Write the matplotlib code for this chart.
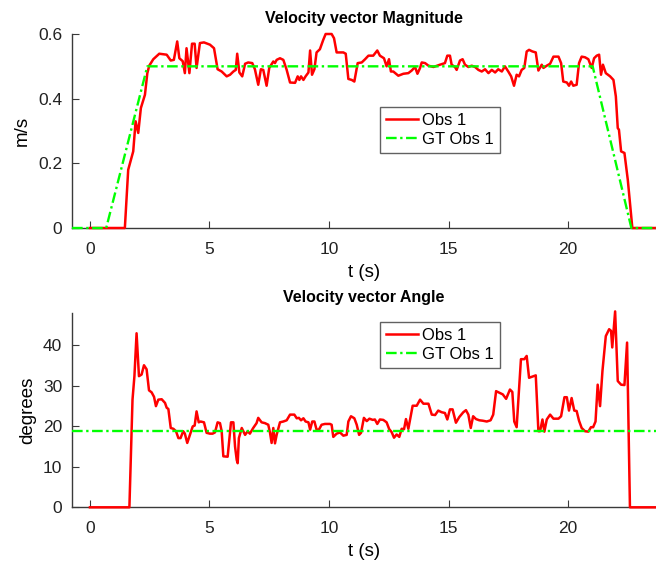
import numpy as np
import matplotlib.pyplot as plt

plt.rcParams['font.family'] = ['Liberation Sans', 'DejaVu Sans']

# time axis limits (tight on the data)
t_min, t_max = -0.75, 23.68

# Velocity magnitude, observed (m/s)
mag_t = [0.0, 1.46, 1.60, 1.81, 1.91, 2.02, 2.13, 2.30, 2.40, 2.48, 2.65, 2.90, 3.21, 3.38, 3.51, 3.65,
         3.74, 3.88, 3.97, 4.04, 4.16, 4.27, 4.38, 4.46, 4.60, 4.77, 5.02, 5.19, 5.34, 5.51, 5.72,
         5.86, 6.00, 6.10, 6.16, 6.25, 6.37, 6.49, 6.62, 6.79, 6.90, 7.04, 7.15, 7.25, 7.39, 7.50,
         7.67, 7.74, 7.81, 7.95, 8.09, 8.23, 8.37, 8.58, 8.69, 8.76, 8.83, 8.93, 9.02, 9.14, 9.21,
         9.29, 9.39, 9.48, 9.62, 9.76, 9.86, 10.11, 10.21, 10.32, 10.60, 10.70, 10.81, 10.95, 11.06,
         11.20, 11.37, 11.51, 11.65, 11.85, 12.02, 12.13, 12.30, 12.41, 12.51, 12.59, 12.69, 12.90,
         13.11, 13.32, 13.46, 13.60, 13.70, 13.81, 13.88, 14.02, 14.16, 14.37, 14.64, 14.85, 14.95,
         15.06, 15.13, 15.27, 15.34, 15.48, 15.59, 15.69, 15.83, 15.97, 16.11, 16.25, 16.39, 16.53,
         16.67, 16.81, 16.95, 17.08, 17.23, 17.36, 17.50, 17.62, 17.74, 17.85, 17.95, 18.06, 18.17,
         18.27, 18.37, 18.51, 18.65, 18.76, 18.90, 18.97, 19.11, 19.25, 19.39, 19.60, 19.71, 19.80,
         19.95, 20.04, 20.13, 20.22, 20.36, 20.46, 20.57, 20.71, 20.85, 20.99, 21.09, 21.20, 21.30,
         21.38, 21.46, 21.58, 21.76, 21.90, 22.00, 22.08, 22.13, 22.22, 22.36, 22.50, 22.59, 22.69,
         23.68]
mag_v = [0.0, 0.0, 0.18, 0.237, 0.33, 0.294, 0.371, 0.412, 0.479, 0.502, 0.522, 0.539, 0.536, 0.518,
         0.52, 0.577, 0.525, 0.516, 0.479, 0.556, 0.479, 0.57, 0.57, 0.495, 0.572, 0.574, 0.567,
         0.556, 0.491, 0.484, 0.469, 0.474, 0.484, 0.489, 0.539, 0.481, 0.469, 0.508, 0.512, 0.51,
         0.491, 0.443, 0.491, 0.489, 0.44, 0.495, 0.515, 0.51, 0.52, 0.525, 0.52, 0.489, 0.45,
         0.449, 0.469, 0.458, 0.469, 0.458, 0.469, 0.481, 0.549, 0.474, 0.491, 0.543, 0.553, 0.582,
         0.60, 0.60, 0.587, 0.543, 0.543, 0.539, 0.461, 0.458, 0.453, 0.51, 0.512, 0.522, 0.533,
         0.533, 0.549, 0.533, 0.525, 0.50, 0.522, 0.484, 0.484, 0.471, 0.477, 0.479, 0.487, 0.498,
         0.477, 0.495, 0.512, 0.51, 0.502, 0.498, 0.505, 0.51, 0.533, 0.533, 0.505, 0.498, 0.489,
         0.518, 0.522, 0.505, 0.498, 0.502, 0.498, 0.489, 0.484, 0.491, 0.479, 0.489, 0.481, 0.491,
         0.484, 0.50, 0.484, 0.469, 0.44, 0.474, 0.469, 0.489, 0.495, 0.546, 0.551, 0.546, 0.543,
         0.487, 0.505, 0.495, 0.502, 0.508, 0.53, 0.53, 0.51, 0.453, 0.45, 0.44, 0.453, 0.44, 0.443,
         0.51, 0.53, 0.528, 0.522, 0.495, 0.525, 0.533, 0.536, 0.474, 0.505, 0.479, 0.469, 0.458,
         0.407, 0.309, 0.304, 0.237, 0.232, 0.149, 0.077, 0.0, 0.0]

# Velocity magnitude, ground truth
gt_mag_t = [t_min, 0.68, 2.40, 21.03, 22.65, t_max]
gt_mag_v = [0.0, 0.0, 0.5, 0.5, 0.0, 0.0]

# Velocity angle, observed (degrees)
ang_t = [0.0, 1.65, 1.78, 1.86, 1.95, 2.05, 2.16, 2.26, 2.37, 2.47, 2.58, 2.68, 2.76, 2.86, 3.00,
         3.14, 3.21, 3.28, 3.38, 3.49, 3.60, 3.70, 3.79, 3.90, 3.97, 4.07, 4.18, 4.30, 4.38, 4.46,
         4.55, 4.63, 4.77, 4.88, 5.02, 5.13, 5.23, 5.34, 5.44, 5.51, 5.58, 5.76, 5.83, 5.90, 6.00,
         6.07, 6.14, 6.18, 6.23, 6.35, 6.49, 6.60, 6.69, 6.83, 6.97, 7.04, 7.18, 7.32, 7.46, 7.53,
         7.60, 7.67, 7.74, 7.81, 7.95, 8.09, 8.23, 8.37, 8.55, 8.65, 8.74, 8.83, 8.93, 9.02, 9.14,
         9.21, 9.30, 9.39, 9.48, 9.58, 9.69, 9.83, 10.04, 10.11, 10.18, 10.32, 10.46, 10.60, 10.74,
         10.81, 10.92, 11.06, 11.16, 11.26, 11.34, 11.46, 11.58, 11.69, 11.83, 11.92, 12.02, 12.13,
         12.27, 12.41, 12.52, 12.62, 12.72, 12.83, 12.94, 13.04, 13.14, 13.22, 13.32, 13.50, 13.67,
         13.81, 13.95, 14.16, 14.30, 14.44, 14.57, 14.71, 14.85, 14.95, 15.06, 15.17, 15.31, 15.45,
         15.62, 15.73, 15.83, 15.93, 16.03, 16.15, 16.29, 16.43, 16.60, 16.76, 16.87, 16.99, 17.13,
         17.27, 17.41, 17.57, 17.67, 17.75, 17.85, 18.03, 18.17, 18.27, 18.37, 18.55, 18.65, 18.76,
         18.83, 18.93, 19.01, 19.11, 19.25, 19.39, 19.60, 19.71, 19.85, 19.95, 20.04, 20.15, 20.26,
         20.36, 20.46, 20.57, 20.71, 20.85, 20.96, 21.05, 21.15, 21.24, 21.34, 21.44, 21.58, 21.72,
         21.80, 21.85, 21.97, 22.08, 22.22, 22.36, 22.47, 22.59, 23.68]
ang_v = [0.0, 0.0, 26.6, 32.4, 43.0, 32.4, 32.8, 35.1, 34.1, 28.9, 28.4, 27.3, 25.0, 26.6, 26.7,
         25.8, 24.6, 24.3, 19.6, 19.4, 18.8, 17.1, 17.1, 18.8, 18.2, 15.9, 17.9, 20.0, 20.2, 23.7,
         21.0, 21.2, 21.0, 18.4, 18.2, 18.2, 18.5, 21.0, 20.8, 18.8, 12.6, 12.5, 16.7, 21.0, 21.0,
         15.0, 11.7, 10.9, 17.1, 19.6, 17.9, 18.8, 18.2, 19.6, 20.8, 22.1, 21.0, 20.8, 20.4, 18.5,
         15.9, 19.6, 15.8, 17.9, 21.0, 21.2, 21.5, 22.9, 22.9, 22.0, 22.1, 21.5, 22.0, 21.2, 21.0,
         19.2, 21.2, 21.2, 19.2, 19.2, 20.4, 20.6, 20.6, 20.4, 17.4, 18.2, 18.5, 17.7, 17.9, 21.2,
         22.5, 22.0, 20.4, 17.9, 18.4, 22.1, 21.3, 21.9, 21.6, 21.7, 20.6, 21.7, 21.6, 21.0, 19.3,
         18.6, 17.2, 18.0, 17.4, 19.4, 19.3, 21.8, 19.4, 25.1, 25.1, 26.6, 25.6, 25.6, 22.9, 22.8,
         23.9, 23.5, 23.3, 21.7, 24.2, 24.2, 20.9, 22.3, 23.5, 24.0, 22.9, 19.6, 22.5, 21.8, 21.5,
         21.4, 21.2, 21.5, 22.9, 28.7, 28.3, 27.9, 26.8, 29.1, 28.5, 21.2, 19.8, 36.6, 36.6, 37.4,
         32.0, 32.4, 32.6, 18.8, 18.8, 21.7, 18.7, 21.7, 22.9, 21.9, 21.9, 22.5, 27.2, 27.2, 23.9,
         27.0, 23.9, 23.8, 21.4, 19.6, 18.8, 18.7, 19.8, 19.8, 21.2, 30.3, 25.0, 33.7, 42.3, 44.0,
         43.6, 39.5, 48.4, 31.2, 30.3, 30.2, 40.7, 0.0, 0.0]

# Velocity angle, ground truth
gt_ang_t = [t_min, t_max]
gt_ang_v = [18.8, 18.8]

red = '#ff0000'
green = '#00ff00'
axis_col = '#3a3a3a'
dash_dot = (0, (4.5, 1.5, 1.0, 1.5))

fig = plt.figure(figsize=(6.56, 5.62), dpi=100)
ax1 = fig.add_axes([0.1098, 0.5943, 0.8902, 0.3452])
ax2 = fig.add_axes([0.1098, 0.0973, 0.8902, 0.3457])


def style_axes(ax):
    for s in ['top', 'right']:
        ax.spines[s].set_visible(False)
    for s in ['left', 'bottom']:
        ax.spines[s].set_color(axis_col)
        ax.spines[s].set_linewidth(1.0)
        ax.spines[s].set_zorder(1)
    ax.tick_params(direction='in', length=5, color=axis_col, labelsize=12.5, labelcolor='#222222')
    ax.tick_params(axis='y', pad=7)
    ax.tick_params(axis='x', pad=10)
    ax.set_xlim(t_min, t_max)
    ax.set_xticks([0, 5, 10, 15, 20])


def add_legend(ax, top_px):
    leg = ax.legend(loc='upper left', bbox_to_anchor=(380 / 656, 1 - top_px / 562),
                    bbox_transform=fig.transFigure, fontsize=12, frameon=True, fancybox=False,
                    borderaxespad=0, handlelength=1.9, borderpad=0.35, labelspacing=0.25,
                    handletextpad=0.3)
    leg.get_frame().set_edgecolor(axis_col)
    leg.get_frame().set_linewidth(1.0)


# Magnitude
ax1.plot(mag_t, mag_v, color=red, lw=1.8, label='Obs 1', zorder=3)
ax1.plot(gt_mag_t, gt_mag_v, color=green, lw=1.7, ls=dash_dot, label='GT Obs 1', zorder=4)
style_axes(ax1)
ax1.set_ylim(0, 0.6)
ax1.set_yticks([0, 0.2, 0.4, 0.6])
ax1.set_yticklabels(['0', '0.2', '0.4', '0.6'])
ax1.set_title('Velocity vector Magnitude', fontsize=11.5, fontweight='bold', pad=8)
ax1.set_xlabel('t (s)', fontsize=13.5, labelpad=5)
ax1.set_ylabel('m/s', fontsize=13.5, labelpad=5)
add_legend(ax1, 107)

# Angle
ax2.plot(ang_t, ang_v, color=red, lw=1.8, label='Obs 1', zorder=3)
ax2.plot(gt_ang_t, gt_ang_v, color=green, lw=1.7, ls=dash_dot, label='GT Obs 1', zorder=4)
style_axes(ax2)
ax2.set_ylim(0, 48)
ax2.set_yticks([0, 10, 20, 30, 40])
ax2.set_title('Velocity vector Angle', fontsize=11.5, fontweight='bold', pad=8)
ax2.set_xlabel('t (s)', fontsize=13.5, labelpad=5)
ax2.set_ylabel('degrees', fontsize=13.5, labelpad=5)
add_legend(ax2, 322)

for ax in (ax1, ax2):
    for line in ax.get_lines():
        line.set_clip_on(False)

fig.savefig('out.png', dpi=100)
